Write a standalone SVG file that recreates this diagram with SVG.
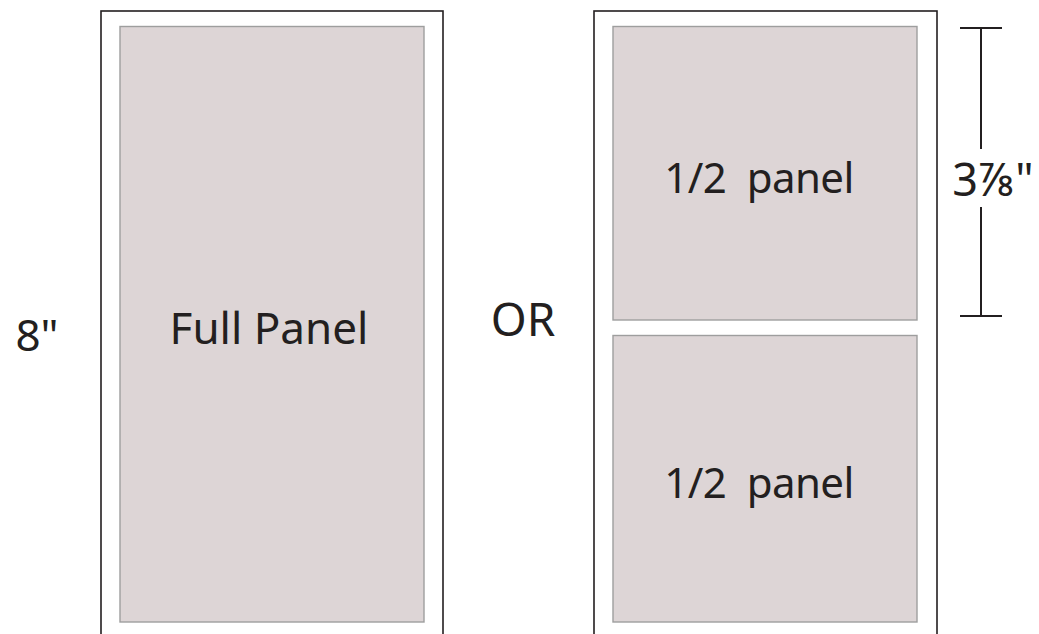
<svg xmlns="http://www.w3.org/2000/svg" width="1039" height="634" viewBox="0 0 1039 634">
<style>
.outer{fill:#fff;stroke:#231f20;stroke-width:1.6}
.panel{fill:#ddd5d6;stroke:#9e9e9e;stroke-width:1.4}
.t{font-family:"Noto Sans","Open Sans",sans-serif;fill:#231f20;text-anchor:middle}
.dim{stroke:#231f20;stroke-width:2;fill:none}
</style>
<rect width="1039" height="634" fill="#fff"/>
<g id="left-page">
<rect class="outer" x="101" y="11" width="342" height="640"/>
<rect class="panel" x="120" y="26.5" width="304" height="595.5"/>
<text class="t" x="269" y="344" font-size="44">Full Panel</text>
</g>
<g id="right-page">
<rect class="outer" x="594" y="11" width="343" height="640"/>
</g>
<g id="half-top">
<rect class="panel" x="613" y="26.5" width="304" height="293.5"/>
<text class="t" x="759" y="193" font-size="42" letter-spacing="-0.6" xml:space="preserve">1/2  panel</text>
</g>
<g id="half-bottom">
<rect class="panel" x="613" y="335.5" width="304" height="286.5"/>
<text class="t" x="759" y="498" font-size="42" letter-spacing="-0.6" xml:space="preserve">1/2  panel</text>
</g>
<g id="label-height">
<text class="t" x="37" y="351" font-size="44">8"</text>
</g>
<g id="label-or">
<text class="t" x="523" y="336" font-size="46">OR</text>
</g>
<g id="connectors">
<path class="dim" d="M960 28H1002M981 28V149M981 207V316M960 316H1002"/>
</g>
<g id="label-dim">
<text class="t" x="993" y="196" font-size="45">3⅞"</text>
</g>
</svg>
